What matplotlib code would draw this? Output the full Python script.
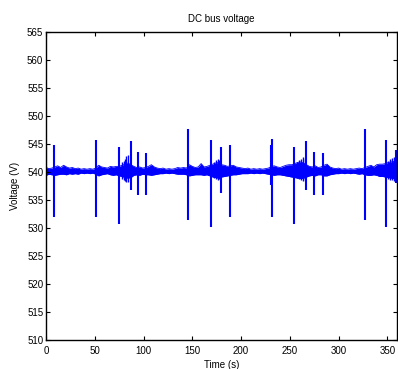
import matplotlib
matplotlib.use("Agg")
import matplotlib.pyplot as plt

# ---- data ----
env_t = list(range(0, 361, 3))
env_hi = [540.8, 540.6, 540.7, 540.9, 541.1, 540.8, 541.2, 540.9, 540.7, 540.8,
          540.6, 540.7, 540.5, 540.6, 540.5, 540.6, 540.5, 540.7, 541.2, 540.9,
          540.8, 540.7, 541.0, 540.9, 541.0, 541.0, 541.2, 541.4, 541.6, 541.3,
          541.0, 540.8, 540.9, 540.7, 540.8, 541.0, 541.3, 540.9, 540.7, 540.6,
          540.7, 540.5, 540.6, 540.5, 540.6, 540.8, 540.7, 540.8, 540.7, 541.3,
          541.0, 540.8, 540.9, 541.5, 540.9, 541.0, 541.2, 541.4, 541.6, 541.7,
          541.3, 541.2, 541.0, 541.1, 541.2, 540.9, 540.8, 540.7, 540.6, 540.7,
          540.5, 540.6, 540.5, 540.6, 540.5, 540.6, 540.7, 541.0, 541.1, 540.9,
          540.8, 541.0, 541.2, 541.3, 541.3, 541.5, 541.7, 541.8, 541.6, 541.3,
          541.0, 540.9, 541.1, 540.8, 540.9, 541.2, 541.4, 540.9, 540.7, 540.6,
          540.7, 540.5, 540.6, 540.5, 540.6, 540.5, 540.6, 540.7, 540.6, 540.8,
          541.0, 541.2, 540.9, 541.3, 541.4, 541.4, 541.5, 541.7, 541.8, 541.9,
          541.8]
env_lo = [539.4, 539.6, 539.5, 539.4, 539.5, 539.6, 539.6, 539.5, 539.7, 539.6,
          539.7, 539.6, 539.8, 539.7, 539.8, 539.7, 539.8, 539.6, 539.3, 539.5,
          539.6, 539.7, 539.5, 539.4, 539.5, 539.3, 539.2, 539.0, 538.9, 539.0,
          539.4, 539.5, 539.4, 539.6, 539.5, 539.5, 539.4, 539.5, 539.6, 539.7,
          539.7, 539.8, 539.7, 539.8, 539.7, 539.6, 539.6, 539.6, 539.5, 539.3,
          539.4, 539.5, 539.5, 539.5, 539.4, 539.5, 539.3, 539.1, 539.0, 538.9,
          539.1, 539.2, 539.3, 539.4, 539.5, 539.5, 539.6, 539.7, 539.7, 539.7,
          539.8, 539.7, 539.8, 539.7, 539.8, 539.7, 539.6, 539.5, 539.4, 539.5,
          539.5, 539.4, 539.3, 539.2, 539.1, 539.0, 538.9, 538.8, 538.9, 539.1,
          539.3, 539.4, 539.3, 539.5, 539.5, 539.3, 539.3, 539.5, 539.6, 539.7,
          539.7, 539.8, 539.7, 539.8, 539.7, 539.8, 539.7, 539.6, 539.7, 539.5,
          539.4, 539.4, 539.5, 539.4, 539.2, 539.2, 539.1, 539.0, 538.9, 538.8,
          538.9]

# large switching transients
spike_t = [0.3, 8.2, 51.2, 74.4, 86.7, 94.5, 103.0, 146.0, 169.6, 179.8,
           188.3, 230.3, 231.7, 253.8, 266.8, 274.6, 283.8, 327.2, 348.7, 359.0]
spike_hi = [544.5, 544.8, 545.8, 544.4, 545.6, 543.6, 543.4, 547.6, 545.8, 544.5,
            544.8, 544.8, 545.9, 544.5, 545.6, 543.6, 543.4, 547.6, 545.8, 543.9]
spike_lo = [536.5, 531.9, 531.9, 530.7, 536.8, 535.9, 535.9, 531.4, 530.2, 536.3,
            531.9, 537.7, 531.9, 530.7, 536.8, 535.9, 535.9, 531.4, 530.2, 538.0]

# small oscillation peaks inside the bursts
minor_t = [77.5, 79.5, 81.0, 82.5, 84.0,
           172.0, 174.0, 176.0, 177.5,
           257.0, 259.0, 261.0, 263.0, 265.0,
           351.0, 353.0, 355.0, 357.0]
minor_hi = [541.8, 542.0, 542.3, 542.8, 543.0,
            541.8, 542.2, 542.4, 542.2,
            541.8, 542.1, 542.4, 542.6, 542.3,
            542.0, 542.3, 542.5, 542.6]
minor_lo = [538.8, 538.6, 538.4, 538.3, 538.2,
            538.9, 538.7, 538.6, 538.7,
            538.9, 538.7, 538.5, 538.4, 538.6,
            538.8, 538.6, 538.5, 538.4]

x_ticks = [0, 50, 100, 150, 200, 250, 300, 350]
y_ticks = [510, 515, 520, 525, 530, 535, 540, 545, 550, 555, 560, 565]

title = "DC bus voltage"
x_label = "Time (s)"
y_label = "Voltage (V)"

# ---- plotting ----
plt.rcParams['font.family'] = ['Liberation Sans', 'DejaVu Sans']
fig = plt.figure(figsize=(3.98, 3.69), dpi=100)
ax = fig.add_axes([0.1156, 0.0786, 0.8824, 0.8347])

blue = (0, 0, 1)
ax.fill_between(env_t, env_lo, env_hi, color=blue, lw=0)
ax.plot(env_t, env_hi, color=blue, lw=0.6)
ax.plot(env_t, env_lo, color=blue, lw=0.6)
ax.vlines(minor_t, minor_lo, minor_hi, color=blue, lw=1.0)
ax.vlines(spike_t, spike_lo, spike_hi, color=blue, lw=1.5)

ax.set_xlim(0, 360)
ax.set_ylim(510, 565)
ax.set_xticks(x_ticks)
ax.set_yticks(y_ticks)
ax.tick_params(direction='in', length=3, width=0.8, labelsize=7,
               top=True, right=True, colors='black')
ax.tick_params(axis='x', pad=4)
ax.tick_params(axis='y', pad=2)
for s in ax.spines.values():
    s.set_linewidth(1.0)
    s.set_color('black')

ax.set_title(title, fontsize=7, pad=7)
ax.set_xlabel(x_label, fontsize=7, labelpad=3)
ax.set_ylabel(y_label, fontsize=7, labelpad=5)

fig.savefig("out.png", dpi=100)
